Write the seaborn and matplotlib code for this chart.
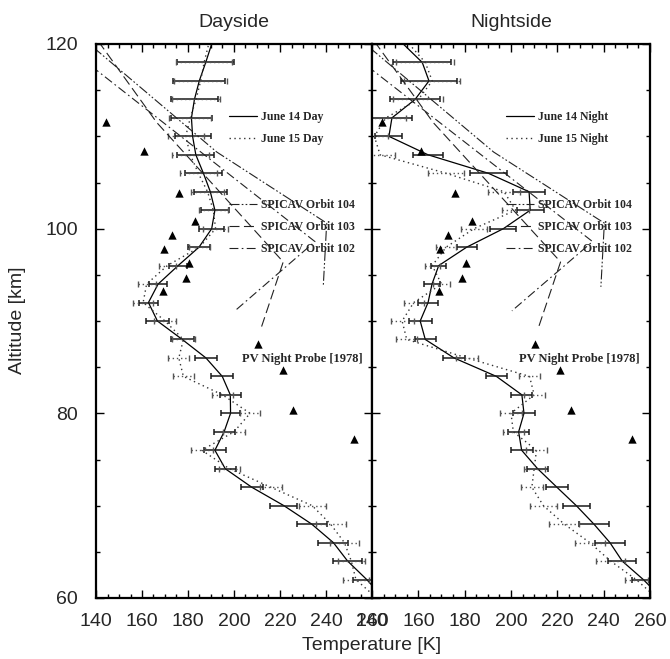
import numpy as np
import pandas as pd
import matplotlib
matplotlib.use("Agg")
import matplotlib.pyplot as plt
from matplotlib.lines import Line2D
from matplotlib.ticker import MultipleLocator
import seaborn as sns

# ---------------- data ----------------
altitude = [60, 62, 64, 66, 68, 70, 72, 74, 76, 78, 80, 82, 84, 86, 88, 90,
            92, 94, 96, 98, 100, 102, 104, 106, 108, 110, 112, 114, 116, 118, 120]

day14_T = [265, 257.7, 249.4, 243.2, 233.8, 221.7, 207.7, 196.2, 191.7, 195.7, 198.5,
           198.4, 194.9, 187.8, 177.5, 166.7, 162.8, 167.0, 175.7, 184.8, 190.3,
           191.7, 189.7, 186.7, 183.4, 182.0, 181.5, 182.8, 184.9, 187.7, 190.3]
day14_err = [6.0, 6.3, 6.5, 6.5, 5.9, 4.8, 4.6, 4.8, 4.6, 4.3, 4.5, 4.7, 4.6, 5.0,
             4.9, 4.3, 3.9, 3.8, 4.6, 5.4, 6.2, 7.3, 8.0, 8.0, 7.8, 9.1, 10.3, 11.4, 12.3]

day15_T = [262, 253, 251, 248, 242, 234, 216, 198, 186, 200, 207,
           195, 178, 176, 178, 170, 160.5, 162, 171, 185, 192,
           191, 188.5, 184.5, 181, 179, 181, 183.5, 185.5, 187, 189]
day15_err = [5.5, 6.0, 6.3, 6.5, 5.9, 4.8, 4.6, 4.8, 4.6, 4.5, 4.5, 4.7, 4.6, 5.0,
             4.9, 4.3, 3.9, 3.8, 4.6, 5.4, 6.2, 7.3, 8.0, 8.0, 7.8, 9.1, 10.3, 11.4, 12.3]

night14_T = [265, 257.1, 248.0, 242.7, 235.8, 228.2, 219.8, 211.5, 204.6, 203.3, 205.6,
             204.7, 193.7, 175.4, 163.0, 160.8, 164.2, 165.9, 168.8, 180.9, 196.7,
             208.3, 207.8, 190.2, 164.2, 147.3, 148.6, 158.6, 164.6, 161.7, 153.5]
night14_err = [5.0, 6.1, 6.5, 6.5, 5.9, 4.8, 4.5, 4.7, 4.5, 4.7, 4.5, 4.5, 4.7, 4.5,
               5.0, 4.3, 3.6, 3.2, 4.3, 5.6, 5.9, 7.0, 7.9, 6.6, 5.8, 8.5, 10.8, 12.1, 12.6]

night15_T = [263, 254, 243, 234, 223, 214, 209, 210, 211, 201, 200,
             210, 208, 181, 155, 153, 158, 170, 166, 172, 184,
             202, 197, 172, 143.5, 141, 146, 160, 166, 163, 156]
night15_err = [5.0, 6.1, 6.5, 6.5, 5.9, 4.8, 4.5, 4.7, 4.5, 4.7, 4.5, 4.5, 4.7, 4.5,
               5.0, 4.3, 3.6, 3.2, 4.3, 5.6, 5.9, 7.0, 7.9, 6.6, 5.8, 8.5, 10.8, 12.1, 12.6]

# SPICAV profiles (temperature, altitude)
orbit104_T = [139.0, 192.5, 240.3, 238.8]
orbit104_alt = [119.6, 108.3, 100.6, 93.7]
orbit103_T = [141.0, 166.4, 221.4, 212.0]
orbit103_alt = [120.3, 111.5, 96.4, 89.4]
orbit102_T = [138.0, 235.2, 200.4]
orbit102_alt = [117.6, 98.6, 91.1]

# Pioneer Venus night probe (1978)
pv_T = [144.5, 161.0, 176.0, 183.0, 173.0, 169.5, 180.6, 179.0, 169.0, 210.3, 221.2, 225.8, 252.3]
pv_alt = [111.5, 108.4, 103.9, 100.8, 99.3, 97.8, 96.3, 94.7, 93.3, 87.5, 84.7, 80.4, 77.2]

panels = [
    ("Dayside", day14_T, day14_err, day15_T, day15_err, "June 14 Day", "June 15 Day"),
    ("Nightside", night14_T, night14_err, night15_T, night15_err, "June 14 Night", "June 15 Night"),
]

# ---------------- styling ----------------
sns.set_style("ticks")
plt.rcParams['font.family'] = ['Liberation Sans', 'DejaVu Sans']
legend_font = {'family': 'Liberation Serif', 'weight': 'bold', 'size': 8.5}
pv_font = {'family': 'Liberation Serif', 'weight': 'bold', 'size': 9}

ls104 = (0, (9, 2, 1.5, 2, 1.5, 2))
ls103 = (0, (9, 4))
ls102 = (0, (8, 3, 1.5, 3))

W, H = 670, 659
fig = plt.figure(figsize=(W / 100, H / 100), dpi=100)
axL = fig.add_axes([96 / W, (H - 598) / H, 276 / W, 554 / H])
axR = fig.add_axes([372 / W, (H - 598) / H, 278 / W, 554 / H])

alt_err = altitude[1:-1]

for ax, (title, t14, e14, t15, e15, lab14, lab15) in zip([axL, axR], panels):
    # June 14 solid profile
    sns.lineplot(x=t14, y=altitude, sort=False, estimator=None, color='black',
                 lw=0.9, ax=ax)
    ax.errorbar(t14[1:-1], alt_err, xerr=e14, fmt='none', ecolor='#1a1a1a',
                elinewidth=1.1, capsize=2.5, capthick=1.1)
    # June 15 dotted profile
    sns.lineplot(x=t15, y=altitude, sort=False, estimator=None, color='#333333',
                 lw=1.0, linestyle=(0, (1, 2.5)), ax=ax)
    eb2 = ax.errorbar(t15[1:-1], alt_err, xerr=e15, fmt='none', ecolor='#555555',
                      elinewidth=1.0, capsize=2.5, capthick=1.0)
    for lc in eb2.lines[2]:
        lc.set_linestyle((0, (1, 2)))

    # SPICAV
    sns.lineplot(x=orbit104_T, y=orbit104_alt, sort=False, estimator=None,
                 color='#222222', lw=0.8, linestyle=ls104, ax=ax)
    sns.lineplot(x=orbit103_T, y=orbit103_alt, sort=False, estimator=None,
                 color='#222222', lw=0.8, linestyle=ls103, ax=ax)
    sns.lineplot(x=orbit102_T, y=orbit102_alt, sort=False, estimator=None,
                 color='#222222', lw=0.8, linestyle=ls102, ax=ax)

    # PV probe
    sns.scatterplot(x=pv_T, y=pv_alt, marker='^', s=36, color='black',
                    edgecolor='black', linewidth=0, ax=ax, zorder=5)
    ax.text(203.3, 85.85, "PV Night Probe [1978]", fontdict=pv_font,
            va='center', ha='left')

    # legends
    h1 = [Line2D([], [], color='black', lw=0.9),
          Line2D([], [], color='#333333', lw=1.0, linestyle=(0, (1, 2.5)))]
    leg1 = ax.legend(h1, [lab14, lab15], loc='upper left',
                     bbox_to_anchor=(0.482, 0.879), frameon=False, prop=legend_font,
                     handlelength=2.4, handletextpad=0.3, labelspacing=0.82,
                     borderpad=0, borderaxespad=0)
    ax.add_artist(leg1)
    h2 = [Line2D([], [], color='#222222', lw=0.8, linestyle=ls104),
          Line2D([], [], color='#222222', lw=0.8, linestyle=ls103),
          Line2D([], [], color='#222222', lw=0.8, linestyle=ls102)]
    ax.legend(h2, ["SPICAV Orbit 104", "SPICAV Orbit 103", "SPICAV Orbit 102"],
              loc='upper left', bbox_to_anchor=(0.482, 0.72), frameon=False,
              prop=legend_font, handlelength=2.4, handletextpad=0.3,
              labelspacing=0.84, borderpad=0, borderaxespad=0)

    ax.set_xlim(140, 260)
    ax.set_ylim(60, 120)
    ax.xaxis.set_major_locator(MultipleLocator(20))
    ax.xaxis.set_minor_locator(MultipleLocator(5))
    ax.yaxis.set_major_locator(MultipleLocator(20))
    ax.yaxis.set_minor_locator(MultipleLocator(5))
    ax.tick_params(which='both', direction='in', top=True, right=True,
                   bottom=True, left=True, width=1.0, color='black')
    ax.tick_params(which='major', length=6, labelsize=14, pad=11)
    ax.tick_params(which='minor', length=3)
    ax.tick_params(axis='y', which='major', pad=13)
    for sp in ax.spines.values():
        sp.set_linewidth(1.6)
        sp.set_color('black')
    ax.set_title(title, fontsize=14, pad=12.5)
    ax.set_xlabel("")
    ax.set_ylabel("")

axR.tick_params(axis='y', labelleft=False)

fig.text(18 / W, 1 - 320 / H, "Altitude [km]", rotation=90, fontsize=14,
         ha='center', va='center')
fig.text(372 / W, 1 - 645 / H, "Temperature [K]", fontsize=14,
         ha='center', va='center')

fig.savefig("out.png", dpi=100, facecolor='white')
